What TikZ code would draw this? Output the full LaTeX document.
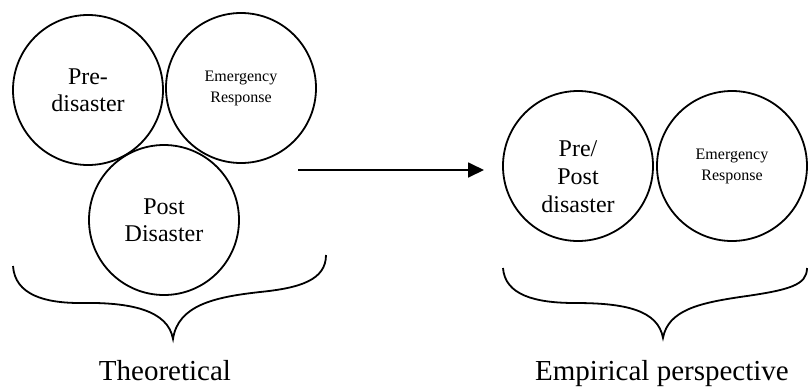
\documentclass[tikz,border=0pt]{standalone}
\usepackage{fontspec}
\setmainfont{Liberation Serif}
\usetikzlibrary{arrows.meta}
\tikzset{
  stage/.style={draw, circle, line width=0.9pt, minimum size=75pt, inner sep=0pt,
    align=center, font=\fontsize{12}{13.5}\selectfont},
  small/.style={font=\fontsize{8}{10.5}\selectfont},
  brace/.style={line width=0.9pt},
  caption/.style={anchor=base, font=\fontsize{14.5}{17}\selectfont}
}
\begin{document}
\begin{tikzpicture}[x=0.5pt, y=-0.5pt]
  \useasboundingbox (0,0) rectangle (810,387);
  \node[stage] (pre) at (88,90) {Pre-\\disaster};
  \node[stage, small] (er1) at (241,88) {Emergency\\Response};
  \node[stage] (post) at (164,220) {Post\\Disaster};
  \node[stage, label={[yshift=-5.5pt, align=center, font=\fontsize{12}{14}\selectfont]center:Pre/\\Post\\disaster}] (prepost) at (578,166) {};
  \node[stage, small] (er2) at (732,166) {Emergency\\Response};
  \coordinate (from) at (298,170);
  \coordinate (to) at (484,170);
  \draw[-{Triangle[length=8pt,width=7.5pt]}, line width=0.9pt] (from) -- (to);
  \draw[brace] (13,266) .. controls (15,295) and (45,303) .. (80,303)
    .. controls (130,302) and (168,310) .. (173,339)
    .. controls (178,305) and (215,297) .. (260,292)
    .. controls (300,288) and (326,280) .. (326,255);
  \draw[brace] (503,268) .. controls (505,295) and (535,303) .. (575,303)
    .. controls (625,303) and (658,310) .. (663,338)
    .. controls (668,310) and (700,303) .. (740,297)
    .. controls (790,290) and (807,285) .. (807,268);
  \node[caption] (theory) at (165,380) {Theoretical};
  \node[caption] (empiric) at (662,380) {Empirical perspective};
\end{tikzpicture}
\end{document}
